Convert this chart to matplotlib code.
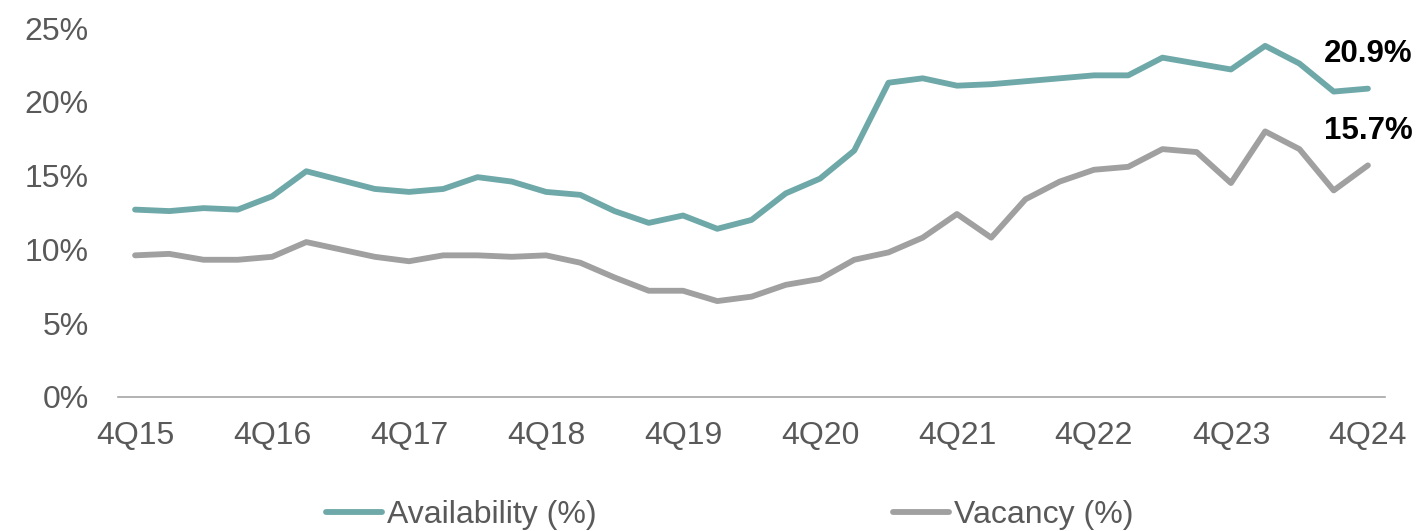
"""
Availability vs vacancy rate, quarterly 4Q15 - 4Q24.
"""
import matplotlib
matplotlib.use("Agg")
import matplotlib.pyplot as plt
from matplotlib.ticker import FuncFormatter

# quarters 4Q15 .. 4Q24 (37 points); ticks every 4th quarter
QUARTERS = [f"{q}Q{y}" for y in range(15, 25) for q in (1, 2, 3, 4)][3:]
TICK_LABELS = [f"4Q{y}" for y in range(15, 25)]

AVAILABILITY = [
    12.7, 12.6, 12.8, 12.7, 13.6, 15.3, 14.7, 14.1, 13.9, 14.1,
    14.9, 14.6, 13.9, 13.7, 12.6, 11.8, 12.3, 11.4, 12.0, 13.8,
    14.8, 16.7, 21.3, 21.6, 21.1, 21.2, 21.4, 21.6, 21.8, 21.8,
    23.0, 22.6, 22.2, 23.8, 22.6, 20.7, 20.9,
]
VACANCY = [
    9.6, 9.7, 9.3, 9.3, 9.5, 10.5, 10.0, 9.5, 9.2, 9.6,
    9.6, 9.5, 9.6, 9.1, 8.1, 7.2, 7.2, 6.5, 6.8, 7.6,
    8.0, 9.3, 9.8, 10.8, 12.4, 10.8, 13.4, 14.6, 15.4, 15.6,
    16.8, 16.6, 14.5, 18.0, 16.8, 14.0, 15.7,
]

TEAL = "#6FA8A8"
GREY = "#A0A0A0"
TEXT = "#595959"

plt.rcParams["font.family"] = ["Liberation Sans", "DejaVu Sans"]


def main() -> None:
    fig = plt.figure(figsize=(14.21, 5.31), dpi=100)
    ax = fig.add_axes([0.083, 0.2524, 0.8917, 0.6946])

    x = list(range(len(QUARTERS)))
    ax.plot(x, AVAILABILITY, color=TEAL, lw=4.2, solid_capstyle="round",
            solid_joinstyle="round", label="Availability (%)")
    ax.plot(x, VACANCY, color=GREY, lw=4.2, solid_capstyle="round",
            solid_joinstyle="round", label="Vacancy (%)")

    # last value labels
    for series in (AVAILABILITY, VACANCY):
        ax.annotate(f"{series[-1]:.1f}%", (x[-1], series[-1]),
                    xytext=(0, 25), textcoords="offset points",
                    ha="center", va="center", fontsize=22.5,
                    fontweight="bold", color="black")

    ax.set_xlim(-0.5, len(x) - 0.5)
    ax.set_ylim(0, 25)
    ax.set_yticks(range(0, 26, 5))
    ax.yaxis.set_major_formatter(FuncFormatter(lambda v, _: f"{v:.0f}%"))
    ax.set_xticks(x[::4])
    ax.set_xticklabels(TICK_LABELS)

    for side in ("top", "right", "left"):
        ax.spines[side].set_visible(False)
    ax.spines["bottom"].set_color("#A6A6A6")
    ax.spines["bottom"].set_linewidth(1.2)
    ax.tick_params(axis="both", length=0, labelsize=23, labelcolor=TEXT)
    ax.tick_params(axis="y", pad=21)
    ax.tick_params(axis="x", pad=17)

    fig.legend(loc="center left", bbox_to_anchor=(326 / 1421, 0.03),
               ncol=2, frameon=False, fontsize=23, labelcolor=TEXT,
               handlelength=1.75, handletextpad=0.15, columnspacing=9.3,
               borderpad=0, borderaxespad=0)

    fig.savefig("out.png", dpi=100)


if __name__ == "__main__":
    main()
